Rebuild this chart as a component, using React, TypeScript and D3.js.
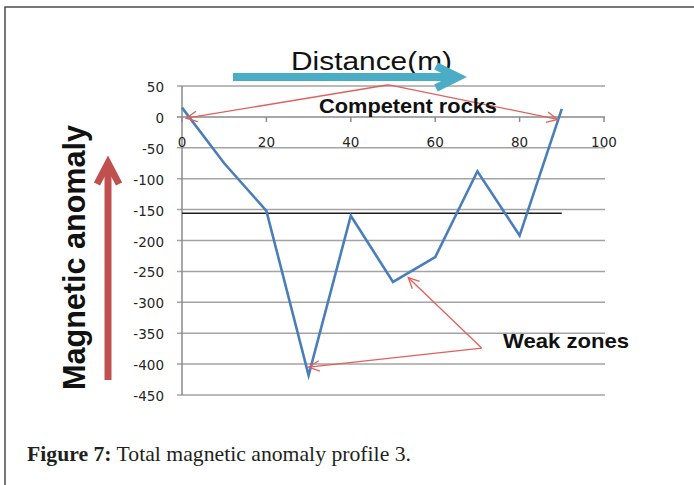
import React from "react";
import * as d3 from "d3";

const distance = [0, 10, 20, 30, 40, 50, 60, 70, 80, 90];
const anomaly = [15, -75, -152, -418, -160, -267, -227, -88, -192, 13];
const xTicks = [0, 20, 40, 60, 80, 100];
const yTicks = [50, 0, -50, -100, -150, -200, -250, -300, -350, -400, -450];
const referenceLevel = -156;
const referenceSpan = [0, 90];
const competentApex = [49, 52];
const competentTargets = [[1, -2], [89, -4]];
const weakApex = [71, -374];
const weakTargets = [[53.6, -260], [30, -405]];

const W = 694;
const H = 485;

function arrowHead(tx: number, ty: number, fx: number, fy: number, len: number, spread: number) {
  const a = Math.atan2(ty - fy, tx - fx);
  const p1 = [tx - len * Math.cos(a - spread), ty - len * Math.sin(a - spread)];
  const p2 = [tx - len * Math.cos(a + spread), ty - len * Math.sin(a + spread)];
  return `M${p1[0]},${p1[1]}L${tx},${ty}L${p2[0]},${p2[1]}`;
}

export default function App() {
  const x = d3.scaleLinear().domain([0, 100]).range([182, 604]);
  const y = d3.scaleLinear().domain([-450, 50]).range([395, 86]);
  const line = d3
    .line<number>()
    .x((_, i) => x(distance[i]))
    .y((d) => y(d));

  const red = "#e0605c";
  const gridColor = "#a3a3a3";

  return (
    <svg
      width={W}
      height={H}
      style={{ position: "absolute", left: 0, top: 0, background: "#fff" }}
    >
      <rect x={0} y={0} width={W} height={H} fill="#fff" />
      {/* frame */}
      <path d={`M5,${H}L5,7L${W},7`} fill="none" stroke="#4a4a4a" strokeWidth={1.5} />

      {/* gridlines */}
      {yTicks.map((t) =>
        t === 0 ? null : (
          <line key={t} x1={x(0) - 5} x2={x(100) + 1} y1={y(t)} y2={y(t)} stroke={gridColor} strokeWidth={1.5} />
        )
      )}
      {/* y axis */}
      <line x1={x(0)} x2={x(0)} y1={y(50)} y2={y(-450)} stroke="#8a8a8a" strokeWidth={1.5} />
      {/* x axis at 0 */}
      <line x1={x(0) - 5} x2={x(100) + 1} y1={y(0)} y2={y(0)} stroke="#8a8a8a" strokeWidth={1.5} />
      {xTicks.map((t) => (
        <line key={t} x1={x(t)} x2={x(t)} y1={y(0)} y2={y(0) + 5} stroke="#8a8a8a" strokeWidth={1.5} />
      ))}

      {/* y tick labels */}
      {yTicks.map((t) => (
        <text
          key={t}
          x={164}
          y={y(t) + 6}
          textAnchor="end"
          fontFamily="DejaVu Sans, sans-serif"
          fontSize={13.5}
          fill="#262626"
        >
          {t}
        </text>
      ))}
      {/* x tick labels */}
      {xTicks.map((t) => (
        <text
          key={t}
          x={x(t)}
          y={147}
          textAnchor="middle"
          fontFamily="DejaVu Sans, sans-serif"
          fontSize={13.5}
          fill="#262626"
        >
          {t}
        </text>
      ))}

      {/* reference line */}
      <line
        x1={x(referenceSpan[0])}
        x2={x(referenceSpan[1])}
        y1={y(referenceLevel)}
        y2={y(referenceLevel)}
        stroke="#1e1e1e"
        strokeWidth={1.4}
      />

      {/* data line */}
      <path d={line(anomaly) || ""} fill="none" stroke="#4a7ebb" strokeWidth={2.6} strokeLinejoin="miter" />

      {/* competent rocks annotation */}
      {competentTargets.map((tg, i) => {
        const fx = x(competentApex[0]);
        const fy = y(competentApex[1]);
        const tx = x(tg[0]);
        const ty = y(tg[1]);
        return (
          <g key={i} stroke={red} strokeWidth={1.3} fill="none">
            <line x1={fx} y1={fy} x2={tx} y2={ty} />
            <path d={arrowHead(tx, ty, fx, fy, 12, 0.45)} />
          </g>
        );
      })}
      {weakTargets.map((tg, i) => {
        const fx = x(weakApex[0]);
        const fy = y(weakApex[1]);
        const tx = x(tg[0]);
        const ty = y(tg[1]);
        return (
          <g key={i} stroke={red} strokeWidth={1.3} fill="none">
            <line x1={fx} y1={fy} x2={tx} y2={ty} />
            <path d={arrowHead(tx, ty, fx, fy, 12, 0.45)} />
          </g>
        );
      })}

      <text
        x={319}
        y={113}
        fontFamily="Liberation Sans, Arial, sans-serif"
        fontWeight="bold"
        fontSize={20.5}
        textLength={178}
        lengthAdjust="spacingAndGlyphs"
        fill="#111"
      >
        Competent rocks
      </text>
      <text
        x={503}
        y={348}
        fontFamily="Liberation Sans, Arial, sans-serif"
        fontWeight="bold"
        fontSize={21}
        textLength={126}
        lengthAdjust="spacingAndGlyphs"
        fill="#111"
      >
        Weak zones
      </text>

      {/* Distance title + teal arrow */}
      <text
        x={291}
        y={70}
        fontFamily="Liberation Sans, Arial, sans-serif"
        fontSize={25}
        textLength={161}
        lengthAdjust="spacingAndGlyphs"
        fill="#111"
      >
        Distance(m)
      </text>
      <g stroke="#4bacc6" strokeWidth={8} fill="none" strokeLinecap="butt">
        <line x1={233} y1={77} x2={457} y2={77} />
        <path d="M436,66L458,77L436,88" strokeLinejoin="miter" />
      </g>

      {/* Magnetic anomaly label + red arrow */}
      <text
        transform={`translate(85,257.5) rotate(-90)`}
        textAnchor="middle"
        fontFamily="Liberation Sans, Arial, sans-serif"
        fontWeight="bold"
        fontSize={31}
        textLength={265}
        lengthAdjust="spacingAndGlyphs"
        fill="#111"
      >
        Magnetic anomaly
      </text>
      <g stroke="#c0504d" strokeWidth={7} fill="none">
        <line x1={108} y1={380} x2={108} y2={163} />
        <path d="M97,184L108,163L119,184" strokeLinejoin="miter" />
      </g>

      {/* caption */}
      <text x={27} y={461} fontFamily="Liberation Serif, serif" fontSize={21} fill="#231f20" textLength={384} lengthAdjust="spacingAndGlyphs">
        <tspan fontWeight="bold">Figure 7:</tspan>
        <tspan> Total magnetic anomaly profile 3.</tspan>
      </text>
    </svg>
  );
}
